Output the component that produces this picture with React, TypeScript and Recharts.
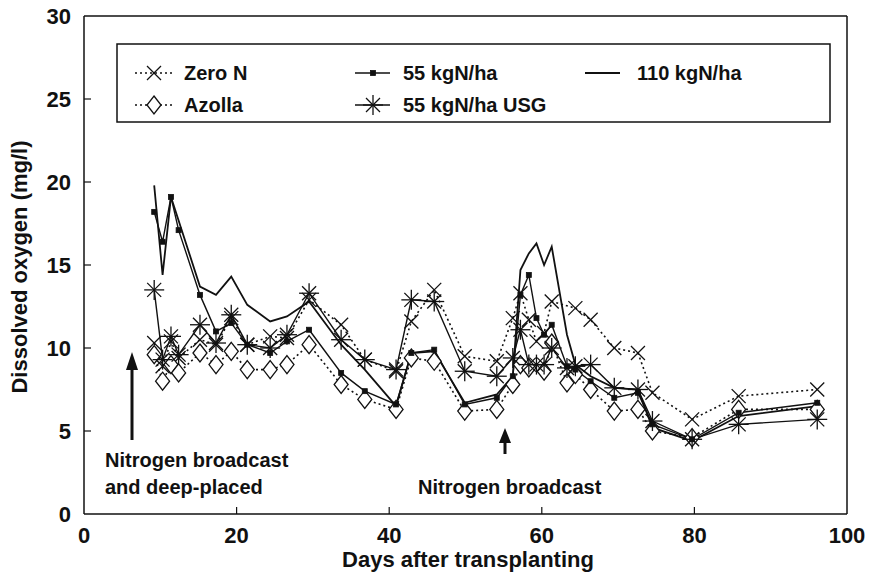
import { Line, LineChart, ReferenceLine, XAxis, YAxis } from 'recharts';

const DAYS = [
  9.2, 10.3, 11.4, 12.4, 15.2, 17.3, 19.3, 21.4, 24.4, 26.6, 29.5, 33.7, 36.8, 40.9, 42.9, 45.9, 49.9,
  54.1, 56.2, 57.2, 58.3, 59.3, 60.3, 61.3, 63.3, 64.4, 66.4, 69.5, 72.6, 74.5, 79.7, 85.8, 96.1,
];
const ZERO_N = [
  10.3, 8.9, 10.4, 9.4, 10.5, 10.2, 11.8, 10.2, 10.7, 10.6, 12.9, 11.4, 9.3, 8.6, 11.6, 13.5, 9.5,
  9.2, 11.8, 13.3, 11.7, 10.4, 10.9, 12.8, null, 12.4, 11.7, 10.0, 9.7, 7.3, 5.7, 7.1, 7.5,
];
const AZOLLA = [
  9.6, 8.0, 9.0, 8.5, 9.7, 9.0, 9.8, 8.7, 8.7, 9.0, 10.2, 7.8, 6.9, 6.3, 9.4, 9.2, 6.2,
  6.3, 7.8, 9.0, 8.8, null, 8.6, 10.3, 7.9, 8.4, 7.5, 6.2, 6.3, 5.0, 4.6, 6.3, 6.3,
];
const N55 = [
  18.2, 16.4, 19.1, 17.1, 13.2, 11.0, 11.5, 10.2, 9.7, 10.4, 11.1, 8.5, 7.4, 6.6, 9.7, 9.9, 6.6,
  7.0, 8.3, 13.2, 14.4, 11.8, 10.8, 11.4, 8.9, 8.7, 8.0, 7.0, 7.3, 5.4, 4.5, 6.1, 6.7,
];
const N110 = [
  19.8, 14.4, 19.1, null, 13.7, 13.2, 14.3, 12.6, 11.6, 11.9, 12.8, 10.2, 8.7, 6.5, 9.7, 9.8, 6.7,
  7.2, 8.3, 14.7, 15.7, 16.3, 15.0, 16.1, 10.8, 9.0, 8.3, 7.6, 7.5, 5.2, 4.4, 5.9, 6.5,
];
const N55_USG = [
  13.5, 9.3, 10.7, 9.6, 11.4, 10.3, 12.0, 10.2, 10.0, 10.8, 13.3, 10.5, 9.3, 8.7, 12.9, 12.8, 8.6,
  8.3, 9.4, 11.1, 9.0, 9.0, 9.0, 10.0, 8.8, 8.9, 9.0, 7.6, 7.5, 5.6, 4.5, 5.4, 5.7,
];
const X_TICKS = [0, 20, 40, 60, 80, 100];
const Y_TICKS = [0, 5, 10, 15, 20, 25, 30];

const data = DAYS.map((day, i) => ({
  day,
  zeroN: ZERO_N[i],
  azolla: AZOLLA[i],
  n55: N55[i],
  n110: N110[i],
  usg: N55_USG[i],
}));

const FONT = '"Liberation Sans", Arial, sans-serif';
const INK = '#111';

function XMark({ cx, cy }: { cx: number; cy: number }) {
  const r = 7;
  return (
    <g stroke={INK} strokeWidth={1.3}>
      <line x1={cx - r} y1={cy - r} x2={cx + r} y2={cy + r} />
      <line x1={cx - r} y1={cy + r} x2={cx + r} y2={cy - r} />
    </g>
  );
}

function Diamond({ cx, cy }: { cx: number; cy: number }) {
  const w = 7;
  const h = 9;
  return (
    <polygon
      points={`${cx},${cy - h} ${cx + w},${cy} ${cx},${cy + h} ${cx - w},${cy}`}
      fill="#fff"
      stroke={INK}
      strokeWidth={1.3}
    />
  );
}

function Square({ cx, cy }: { cx: number; cy: number }) {
  return <rect x={cx - 2.5} y={cy - 2.5} width={5} height={5} fill={INK} stroke={INK} strokeWidth={0.8} />;
}

function Asterisk({ cx, cy }: { cx: number; cy: number }) {
  const r = 10;
  const d = 7;
  return (
    <g stroke={INK} strokeWidth={1.3}>
      <line x1={cx - r} y1={cy} x2={cx + r} y2={cy} />
      <line x1={cx} y1={cy - r} x2={cx} y2={cy + r} />
      <line x1={cx - d} y1={cy - d} x2={cx + d} y2={cy + d} />
      <line x1={cx - d} y1={cy + d} x2={cx + d} y2={cy - d} />
    </g>
  );
}

function dotWith(Shape: (p: { cx: number; cy: number }) => JSX.Element) {
  return (props: any) => {
    const { cx, cy, value, index } = props;
    if (value == null || cx == null || cy == null || Number.isNaN(cy)) return <g key={index} />;
    return (
      <g key={index}>
        <Shape cx={cx} cy={cy} />
      </g>
    );
  };
}

const TEXT = { fontFamily: FONT, fontWeight: 'bold', fill: INK } as const;

function XTick({ x, y, payload }: any) {
  return (
    <g>
      {payload.value !== 0 && payload.value !== 100 && (
        <line x1={x} x2={x} y1={y} y2={y - 7} stroke={INK} strokeWidth={1.2} />
      )}
      <text x={x} y={y + 29} textAnchor="middle" fontSize={22} {...TEXT}>
        {payload.value}
      </text>
    </g>
  );
}

function YTick({ x, y, payload }: any) {
  return (
    <g>
      {payload.value !== 0 && payload.value !== 30 && (
        <line x1={x} x2={x + 7} y1={y} y2={y} stroke={INK} strokeWidth={1.2} />
      )}
      <text x={x - 13} y={y + 8} textAnchor="end" fontSize={22} {...TEXT}>
        {payload.value}
      </text>
    </g>
  );
}

function Overlay() {
  const txt = { fontSize: 20, ...TEXT };
  return (
    <svg
      width={895}
      height={575}
      style={{ position: 'absolute', left: 0, top: 0, pointerEvents: 'none' }}
    >
      {/* legend */}
      <rect x={117} y={44} width={713} height={78} fill="#fff" stroke={INK} strokeWidth={1.5} />
      <line x1={135} x2={172} y1={73} y2={73} stroke={INK} strokeWidth={1.5} strokeDasharray="2 3" />
      <XMark cx={154} cy={73} />
      <text x={184} y={80} {...txt}>Zero N</text>
      <line x1={135} x2={172} y1={105} y2={105} stroke={INK} strokeWidth={1.5} strokeDasharray="2 3" />
      <Diamond cx={154} cy={105} />
      <text x={184} y={112} {...txt}>Azolla</text>
      <line x1={355} x2={390} y1={73} y2={73} stroke={INK} strokeWidth={1.5} />
      <Square cx={373} cy={73} />
      <text x={403} y={80} {...txt}>55 kgN/ha</text>
      <line x1={355} x2={390} y1={105} y2={105} stroke={INK} strokeWidth={1.5} />
      <Asterisk cx={373} cy={105} />
      <text x={403} y={112} {...txt}>55 kgN/ha USG</text>
      <line x1={585} x2={620} y1={73} y2={73} stroke={INK} strokeWidth={2} />
      <text x={637} y={80} {...txt}>110 kgN/ha</text>

      {/* annotations */}
      <line x1={132} x2={132} y1={440} y2={366} stroke={INK} strokeWidth={3} />
      <polygon points="126,370 138,370 132,352" fill={INK} />
      <text x={105} y={467} {...txt}>Nitrogen broadcast</text>
      <text x={105} y={494} {...txt}>and deep-placed</text>
      <line x1={505} x2={505} y1={454} y2={440} stroke={INK} strokeWidth={3} />
      <polygon points="499,443 511,443 505,428" fill={INK} />
      <text x={418} y={494} {...txt}>Nitrogen broadcast</text>

      {/* axis titles */}
      <text x={468} y={567} textAnchor="middle" fontSize={22} {...TEXT}>
        Days after transplanting
      </text>
      <text x={27} y={267} textAnchor="middle" fontSize={22} {...TEXT} transform="rotate(-90, 27, 267)">
        Dissolved oxygen (mg/l)
      </text>
    </svg>
  );
}

export default function App() {
  return (
    <div style={{ position: 'absolute', left: 0, top: 0, width: 895, height: 575, background: '#fff' }}>
      <LineChart width={895} height={575} data={data} margin={{ top: 16, right: 48, left: 0, bottom: 0 }}>
        <XAxis
          dataKey="day"
          type="number"
          domain={[0, 100]}
          ticks={X_TICKS}
          height={61}
          tickSize={0}
          tickMargin={0}
          tick={<XTick />}
          axisLine={{ stroke: INK, strokeWidth: 1.5 }}
          tickLine={false}
        />
        <YAxis
          type="number"
          domain={[0, 30]}
          ticks={Y_TICKS}
          width={84}
          tickSize={0}
          tickMargin={0}
          tick={<YTick />}
          axisLine={{ stroke: INK, strokeWidth: 1.5 }}
          tickLine={false}
        />
        <ReferenceLine y={30} stroke={INK} strokeWidth={1.5} />
        <ReferenceLine x={100} stroke={INK} strokeWidth={1.5} />
        <Line
          dataKey="zeroN"
          stroke={INK}
          strokeWidth={1.6}
          strokeDasharray="2 3"
          connectNulls
          dot={dotWith(XMark)}
          isAnimationActive={false}
        />
        <Line
          dataKey="azolla"
          stroke={INK}
          strokeWidth={1.6}
          strokeDasharray="2 3"
          connectNulls
          dot={dotWith(Diamond)}
          isAnimationActive={false}
        />
        <Line
          dataKey="n110"
          stroke={INK}
          strokeWidth={1.8}
          connectNulls
          dot={false}
          isAnimationActive={false}
        />
        <Line
          dataKey="n55"
          stroke={INK}
          strokeWidth={1.4}
          connectNulls
          dot={dotWith(Square)}
          isAnimationActive={false}
        />
        <Line
          dataKey="usg"
          stroke={INK}
          strokeWidth={1.4}
          connectNulls
          dot={dotWith(Asterisk)}
          isAnimationActive={false}
        />
      </LineChart>
      <Overlay />
    </div>
  );
}
